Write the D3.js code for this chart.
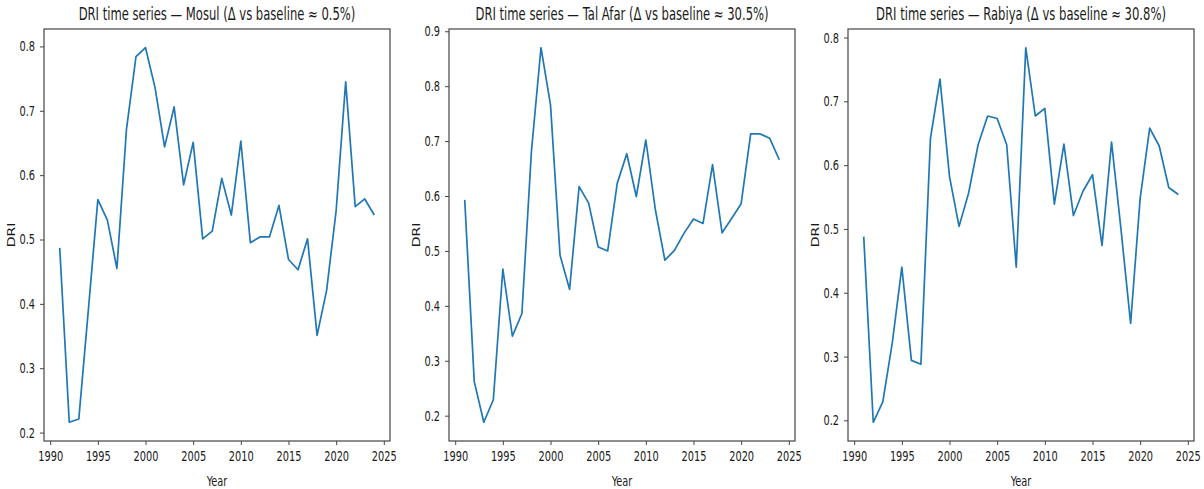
<!DOCTYPE html>
<html>
<head>
<meta charset="utf-8">
<script src="https://cdn.jsdelivr.net/npm/d3@7"></script>
<style>
  body { margin: 0; background: #fff; }
  svg { display: block; }
  text { font-family: "DejaVu Sans", sans-serif; fill: #1a1a1a; }
</style>
</head>
<body>
<div id="chart"></div>
<script>
// data
const years = d3.range(1991, 2025);
const mosulDRI = [0.487, 0.216, 0.221, 0.390, 0.562, 0.530, 0.455, 0.671, 0.784, 0.798,
  0.736, 0.644, 0.706, 0.585, 0.651, 0.501, 0.513, 0.595, 0.538, 0.653,
  0.495, 0.504, 0.504, 0.553, 0.469, 0.453, 0.501, 0.351, 0.421, 0.545,
  0.745, 0.551, 0.563, 0.538];
const talAfarDRI = [0.593, 0.262, 0.188, 0.229, 0.467, 0.345, 0.386, 0.682, 0.870, 0.766,
  0.492, 0.430, 0.617, 0.587, 0.507, 0.500, 0.623, 0.677, 0.599, 0.702,
  0.575, 0.483, 0.501, 0.532, 0.558, 0.550, 0.657, 0.533, 0.559, 0.586,
  0.713, 0.713, 0.705, 0.666];
const rabiyaDRI = [0.488, 0.197, 0.229, 0.322, 0.440, 0.294, 0.288, 0.642, 0.735, 0.582,
  0.504, 0.556, 0.632, 0.677, 0.673, 0.632, 0.440, 0.784, 0.677, 0.689,
  0.539, 0.633, 0.521, 0.559, 0.585, 0.474, 0.636, 0.498, 0.352, 0.548,
  0.658, 0.630, 0.565, 0.554];
const cities = ['Mosul', 'Tal Afar', 'Rabiya'];
const deltas = ['0.5%', '30.5%', '30.8%'];
const xTicks = [1990, 1995, 2000, 2005, 2010, 2015, 2020, 2025];
const yTicksMosul = [0.2, 0.3, 0.4, 0.5, 0.6, 0.7, 0.8];
const yTicksTalAfar = [0.2, 0.3, 0.4, 0.5, 0.6, 0.7, 0.8, 0.9];
const yTicksRabiya = [0.2, 0.3, 0.4, 0.5, 0.6, 0.7, 0.8];

const series = [mosulDRI, talAfarDRI, rabiyaDRI];
const yTickSets = [yTicksMosul, yTicksTalAfar, yTicksRabiya];

const W = 1204, H = 489;
const lefts = [44, 449, 848];
const plotW = 346, plotTop = 29, plotBottom = 441;
const sx = 0.7; // the reference is squeezed horizontally
const tickFont = 14, titleFont = 16.8;

const svg = d3.select('#chart').append('svg').attr('width', W).attr('height', H);

function padded(ext) {
  const m = (ext[1] - ext[0]) * 0.05;
  return [ext[0] - m, ext[1] + m];
}

series.forEach((vals, i) => {
  const left = lefts[i];
  const x = d3.scaleLinear().domain(padded(d3.extent(years))).range([left, left + plotW]);
  const y = d3.scaleLinear().domain(padded(d3.extent(vals))).range([plotBottom, plotTop]);
  const g = svg.append('g');

  // x axis
  const gx = g.append('g')
    .attr('transform', `translate(0,${plotBottom})`)
    .call(d3.axisBottom(x).tickValues(xTicks).tickFormat(d3.format('d')).tickSize(4).tickPadding(6).tickSizeOuter(0));
  gx.select('.domain').remove();
  gx.selectAll('line').attr('stroke', '#444');
  gx.selectAll('text').attr('font-size', tickFont).attr('font-family', 'DejaVu Sans')
    .attr('fill', '#1a1a1a').attr('transform', `scale(${sx},1)`);

  // y axis
  const gap = 9;
  const gy = g.append('g')
    .attr('transform', `translate(${left},0)`)
    .call(d3.axisLeft(y).tickValues(yTickSets[i]).tickFormat(d3.format('.1f')).tickSize(4).tickSizeOuter(0));
  gy.select('.domain').remove();
  gy.selectAll('line').attr('stroke', '#444');
  gy.selectAll('text').attr('font-size', tickFont).attr('font-family', 'DejaVu Sans')
    .attr('fill', '#1a1a1a').attr('x', -gap / sx).attr('transform', `scale(${sx},1)`);

  // data line
  const line = d3.line().x((d, j) => x(years[j])).y(d => y(d));
  g.append('path').datum(vals)
    .attr('fill', 'none').attr('stroke', '#1f77b4').attr('stroke-width', 1.7)
    .attr('stroke-linejoin', 'round')
    .attr('d', line);

  // frame
  g.append('rect')
    .attr('x', left).attr('y', plotTop).attr('width', plotW).attr('height', plotBottom - plotTop)
    .attr('fill', 'none').attr('stroke', '#444').attr('stroke-width', 1.2);

  // title
  g.append('text')
    .attr('transform', `translate(${left + plotW / 2},${plotTop - 9}) scale(0.69,1)`)
    .attr('text-anchor', 'middle').attr('font-size', titleFont)
    .text(`DRI time series — ${cities[i]} (Δ vs baseline ≈ ${deltas[i]})`);

  // axis labels
  g.append('text')
    .attr('transform', `translate(${left + plotW / 2},486) scale(${sx},1)`)
    .attr('text-anchor', 'middle').attr('font-size', tickFont)
    .text('Year');
  g.append('text')
    .attr('transform', `translate(${left - 29},${(plotTop + plotBottom) / 2}) scale(${sx},1) rotate(-90)`)
    .attr('text-anchor', 'middle').attr('font-size', tickFont)
    .text('DRI');
});
</script>
</body>
</html>
